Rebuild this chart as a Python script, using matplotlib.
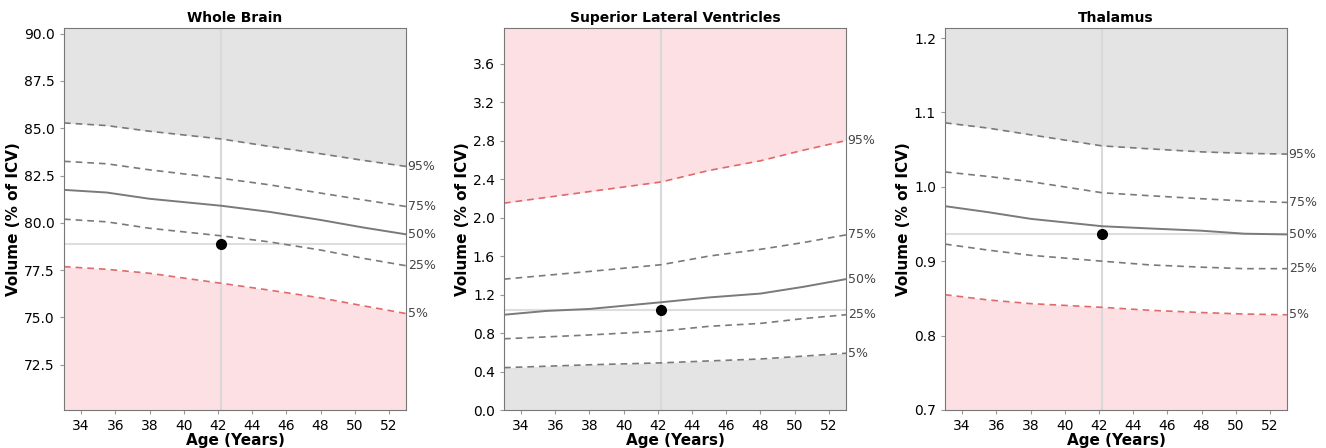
import matplotlib.pyplot as plt
import numpy as np

# ages at which the percentile curves were read
ages = [33, 35.5, 38, 42.2, 45, 48, 50.5, 53]
pct_labels = ['95%', '75%', '50%', '25%', '5%']

# Whole Brain
wb_95 = [85.28, 85.14, 84.84, 84.43, 84.04, 83.65, 83.30, 82.98]
wb_75 = [83.25, 83.12, 82.80, 82.35, 82.01, 81.57, 81.21, 80.86]
wb_50 = [81.74, 81.60, 81.27, 80.90, 80.58, 80.15, 79.75, 79.39]
wb_25 = [80.19, 80.05, 79.71, 79.31, 78.99, 78.56, 78.12, 77.73]
wb_5 = [77.68, 77.54, 77.33, 76.80, 76.44, 76.03, 75.61, 75.20]
wb_subject = (42.2, 78.88)

# Superior Lateral Ventricles
slv_95 = [2.15, 2.21, 2.27, 2.37, 2.49, 2.59, 2.70, 2.80]
slv_75 = [1.36, 1.40, 1.44, 1.51, 1.60, 1.67, 1.74, 1.82]
slv_50 = [0.99, 1.03, 1.05, 1.12, 1.17, 1.21, 1.28, 1.36]
slv_25 = [0.74, 0.76, 0.78, 0.82, 0.87, 0.90, 0.95, 0.99]
slv_5 = [0.44, 0.455, 0.47, 0.49, 0.51, 0.53, 0.56, 0.59]
slv_subject = (42.2, 1.04)

# Thalamus
th_95 = [1.086, 1.079, 1.070, 1.055, 1.051, 1.047, 1.045, 1.044]
th_75 = [1.020, 1.014, 1.007, 0.992, 0.988, 0.984, 0.981, 0.979]
th_50 = [0.974, 0.966, 0.957, 0.947, 0.944, 0.941, 0.937, 0.936]
th_25 = [0.923, 0.915, 0.908, 0.900, 0.895, 0.892, 0.890, 0.890]
th_5 = [0.855, 0.848, 0.843, 0.838, 0.834, 0.831, 0.829, 0.828]
th_subject = (42.2, 0.937)

PINK = '#fde0e4'
GREY = '#e4e4e4'
RED_LINE = '#e06a6a'
GREY_LINE = '#7a7a7a'


def draw_panel(ax, title, curves, subject, ylim, yticks, yfmt, high_is_bad):
    """curves is the list of 95/75/50/25/5 percentile values"""
    lo, hi = ylim
    x = np.array(ages)
    c95 = np.array(curves[0])
    c5 = np.array(curves[-1])

    # shaded regions outside 5-95
    if high_is_bad:
        ax.fill_between(x, c95, hi, color=PINK, lw=0)
        ax.fill_between(x, lo, c5, color=GREY, lw=0)
    else:
        ax.fill_between(x, c95, hi, color=GREY, lw=0)
        ax.fill_between(x, lo, c5, color=PINK, lw=0)

    # crosshair on the subject
    ax.axvline(subject[0], color='#d9d9d9', lw=1.5, zorder=1)
    ax.axhline(subject[1], color='#dedede', lw=1.5, zorder=1)

    for vals, lab in zip(curves, pct_labels):
        if lab == '50%':
            ax.plot(x, vals, color=GREY_LINE, lw=1.4, ls='-', zorder=2)
        else:
            col = GREY_LINE
            if (lab == '95%' and high_is_bad) or (lab == '5%' and not high_is_bad):
                col = RED_LINE
            ax.plot(x, vals, color=col, lw=1.2, ls=(0, (4, 3)), zorder=2)
        ax.text(53.1, vals[-1], lab, fontsize=9, color='#444444',
                va='center', ha='left', clip_on=False)

    ax.plot(subject[0], subject[1], 'o', color='black', ms=7, zorder=3)

    ax.set_xlim(33, 53)
    ax.set_ylim(lo, hi)
    ax.set_xticks(range(34, 53, 2))
    ax.set_yticks(yticks)
    ax.set_yticklabels([yfmt.format(v) for v in yticks])
    ax.tick_params(labelsize=10, length=3, color='#999999')
    for s in ax.spines.values():
        s.set_color('#777777')
    ax.set_title(title, fontsize=10, fontweight='bold', pad=4)
    ax.set_xlabel('Age (Years)', fontsize=11, fontweight='bold', labelpad=0)
    ax.set_ylabel('Volume (% of ICV)', fontsize=11, fontweight='bold', labelpad=2)


fig = plt.figure(figsize=(13.26, 4.48), dpi=100)
ax1 = fig.add_axes([64 / 1326, 1 - 410 / 448, 342 / 1326, 382 / 448])
ax2 = fig.add_axes([504 / 1326, 1 - 410 / 448, 342 / 1326, 382 / 448])
ax3 = fig.add_axes([945 / 1326, 1 - 410 / 448, 342 / 1326, 382 / 448])

draw_panel(ax1, 'Whole Brain', [wb_95, wb_75, wb_50, wb_25, wb_5], wb_subject,
           (70.1, 90.3), np.arange(72.5, 90.1, 2.5), '{:.1f}', high_is_bad=False)
draw_panel(ax2, 'Superior Lateral Ventricles', [slv_95, slv_75, slv_50, slv_25, slv_5],
           slv_subject, (0.0, 3.97), np.arange(0, 3.61, 0.4), '{:.1f}', high_is_bad=True)
draw_panel(ax3, 'Thalamus', [th_95, th_75, th_50, th_25, th_5], th_subject,
           (0.7, 1.2135), np.arange(0.7, 1.21, 0.1), '{:.1f}', high_is_bad=False)

fig.savefig('out.png', dpi=100)
